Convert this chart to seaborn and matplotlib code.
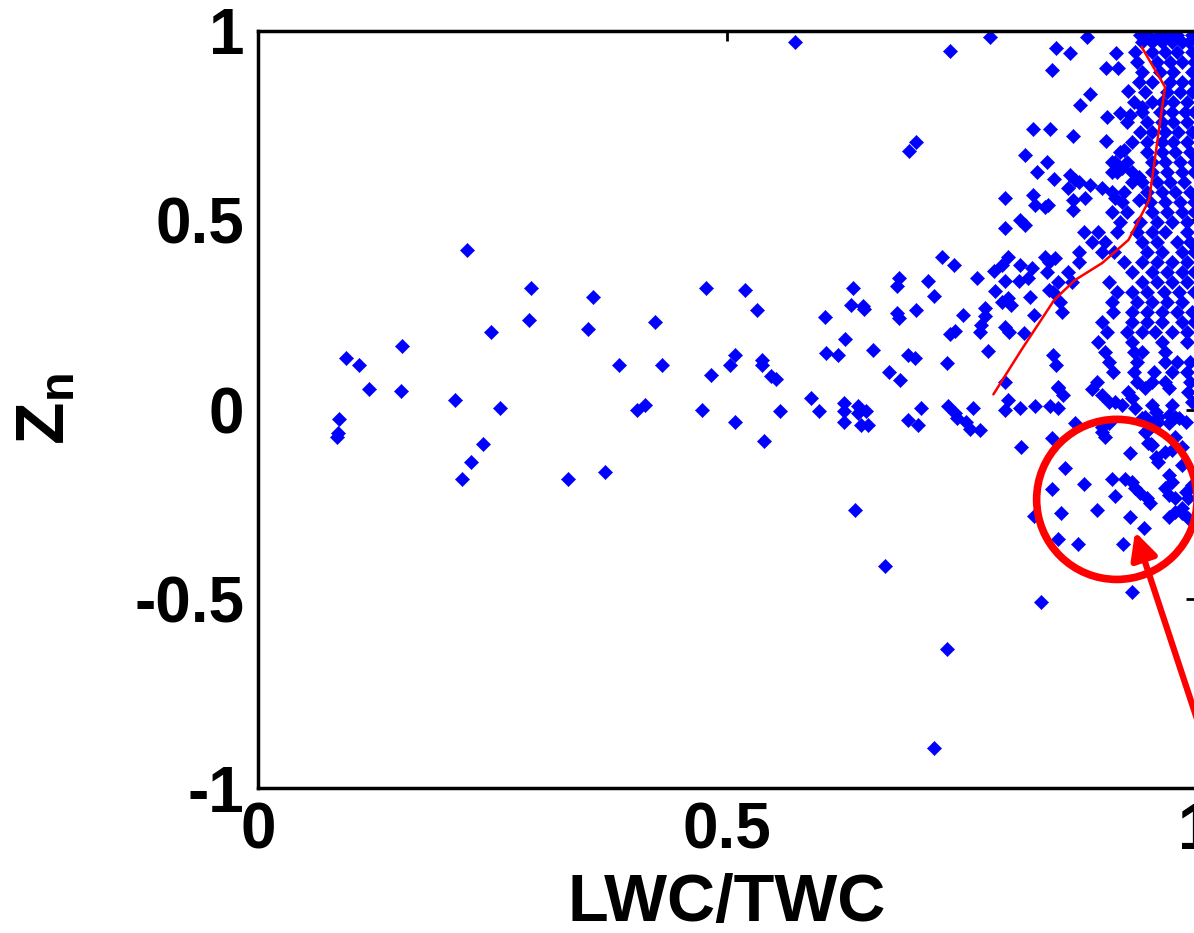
import pandas as pd
import seaborn as sns
import matplotlib.pyplot as plt
from matplotlib.patches import Ellipse

# Scattered points, left part of the cloud (LWC/TWC, Zn)
left_pts = [(0.223, 0.422), (0.291, 0.320), (0.357, 0.296), (0.478, 0.320), (0.519, 0.316),
            (0.289, 0.237), (0.248, 0.206), (0.352, 0.212), (0.423, 0.231), (0.154, 0.169),
            (0.094, 0.137), (0.108, 0.118), (0.385, 0.118), (0.431, 0.118), (0.509, 0.145),
            (0.503, 0.118), (0.483, 0.092), (0.118, 0.055), (0.152, 0.049), (0.210, 0.024),
            (0.258, 0.005), (0.404, -0.002), (0.413, 0.011), (0.473, -0.002), (0.509, -0.032),
            (0.086, -0.026), (0.084, -0.072), (0.085, -0.062), (0.240, -0.090), (0.227, -0.140),
            (0.217, -0.184), (0.330, -0.184), (0.370, -0.166), (0.573, 0.972)]

mid_pts = [(0.634, 0.321), (0.532, 0.262), (0.537, 0.130), (0.537, 0.118), (0.547, 0.088),
           (0.552, 0.081), (0.557, -0.003), (0.539, -0.084), (0.605, 0.244), (0.632, 0.276),
           (0.645, 0.273), (0.646, 0.266), (0.626, 0.187), (0.606, 0.150), (0.618, 0.143),
           (0.656, 0.156), (0.673, 0.099), (0.684, 0.079), (0.683, 0.347), (0.681, 0.327),
           (0.681, 0.255), (0.683, 0.243), (0.590, 0.031), (0.598, -0.003), (0.625, 0.017),
           (0.625, -0.003), (0.625, -0.033), (0.640, 0.009), (0.640, -0.009), (0.648, -0.003),
           (0.643, -0.042), (0.650, -0.042), (0.636, -0.265), (0.668, -0.414),
           (0.693, 0.143), (0.700, 0.136), (0.693, -0.028), (0.704, -0.042), (0.707, 0.005),
           (0.714, 0.340), (0.721, 0.301), (0.702, 0.262), (0.729, 0.403), (0.742, 0.383),
           (0.735, 0.123), (0.738, 0.199), (0.743, 0.207), (0.736, 0.009), (0.743, -0.009),
           (0.745, -0.023), (0.755, -0.032), (0.759, -0.051), (0.762, 0.005), (0.770, -0.054),
           (0.752, 0.249), (0.767, 0.347), (0.785, 0.366), (0.786, 0.312), (0.775, 0.269),
           (0.775, 0.247), (0.771, 0.222), (0.770, 0.204), (0.778, 0.155), (0.735, -0.633),
           (0.721, -0.894), (0.738, 0.947), (0.694, 0.683), (0.702, 0.706), (0.780, 0.985),
           (0.796, 0.560)]

upper_pts = [(0.796, 0.479), (0.812, 0.501), (0.818, 0.487), (0.793, 0.382), (0.800, 0.403),
             (0.796, 0.339), (0.812, 0.382), (0.811, 0.339), (0.821, 0.347), (0.825, 0.373),
             (0.839, 0.404), (0.850, 0.399), (0.793, 0.285), (0.800, 0.294), (0.803, 0.276),
             (0.823, 0.298), (0.843, 0.316), (0.853, 0.338), (0.827, 0.250), (0.796, 0.219),
             (0.801, 0.206), (0.817, 0.201), (0.848, 0.144), (0.851, 0.118), (0.796, 0.073),
             (0.853, 0.060), (0.800, 0.025), (0.796, -0.001), (0.812, 0.003), (0.828, 0.010),
             (0.844, 0.010), (0.853, 0.003), (0.853, 0.056), (0.858, 0.038), (0.813, -0.098),
             (0.846, -0.076), (0.871, -0.036),
             (0.884, 0.985), (0.851, 0.954), (0.866, 0.941), (0.915, 0.941), (0.846, 0.897),
             (0.904, 0.903), (0.917, 0.903), (0.887, 0.834), (0.876, 0.804), (0.927, 0.842),
             (0.905, 0.772), (0.919, 0.783), (0.930, 0.778), (0.826, 0.740), (0.844, 0.740),
             (0.869, 0.723), (0.904, 0.709), (0.818, 0.672), (0.841, 0.655), (0.831, 0.628),
             (0.849, 0.609), (0.866, 0.620), (0.871, 0.607), (0.864, 0.584), (0.875, 0.602),
             (0.887, 0.593), (0.900, 0.584), (0.910, 0.575), (0.914, 0.558), (0.914, 0.655),
             (0.910, 0.628), (0.921, 0.637), (0.923, 0.686), (0.932, 0.708), (0.826, 0.567),
             (0.828, 0.540), (0.842, 0.540), (0.869, 0.553), (0.882, 0.560), (0.932, 0.602),
             (0.939, 0.615), (0.939, 0.553), (0.839, 0.536), (0.869, 0.527), (0.942, 0.800)]

lower_pts = [(0.889, 0.054), (0.900, 0.038), (0.907, 0.021), (0.914, 0.021), (0.900, -0.059),
             (0.903, -0.072), (0.928, 0.047), (0.932, 0.030), (0.921, 0.012), (0.935, 0.003),
             (0.946, 0.056), (0.971, 0.056), (0.992, 0.047), (0.996, 0.021), (0.953, 0.012),
             (0.957, -0.006), (0.942, -0.023), (0.949, -0.028), (0.960, -0.032), (0.971, -0.015),
             (0.974, 0.012), (0.982, -0.023), (0.989, -0.032), (0.946, -0.059), (0.953, -0.094),
             (0.957, -0.125), (0.960, -0.138), (0.967, -0.111), (0.974, -0.107), (0.985, -0.147),
             (0.971, -0.173), (0.974, -0.191), (0.967, -0.208), (0.971, -0.226), (0.978, -0.235),
             (0.989, -0.217), (0.992, -0.235), (0.996, -0.199), (0.971, -0.283), (0.978, -0.270),
             (0.985, -0.274), (0.992, -0.287), (0.978, -0.019), (0.971, -0.036), (0.960, -0.019),
             (0.946, -0.019), (0.949, -0.054), (0.900, -0.045), (0.907, -0.036), (0.978, -0.072),
             (0.985, -0.098), (0.949, -0.089), (0.985, -0.261),
             (0.860, -0.154), (0.846, -0.210), (0.881, -0.197), (0.910, -0.184), (0.914, -0.229),
             (0.924, -0.184), (0.932, -0.191), (0.935, -0.208), (0.940, -0.221), (0.948, -0.235),
             (0.951, -0.248), (0.894, -0.266), (0.856, -0.274), (0.930, -0.283), (0.945, -0.314),
             (0.827, -0.281), (0.930, -0.116), (0.952, -0.092), (0.853, -0.343), (0.874, -0.356),
             (0.922, -0.356), (0.932, -0.481), (0.835, -0.508)]

# Dense band near LWC/TWC = 1: one row of x values per Zn level
dense_y = [0.990, 0.972, 0.945, 0.919, 0.892, 0.866, 0.840, 0.813, 0.787, 0.760,
           0.734, 0.708, 0.681, 0.655, 0.628, 0.602, 0.575, 0.549, 0.523, 0.496,
           0.470, 0.443, 0.417, 0.390, 0.364, 0.338, 0.311, 0.285, 0.258, 0.232,
           0.206, 0.179, 0.153, 0.126, 0.100, 0.073]
dense_x = [[0.940, 0.949, 0.961, 0.971, 0.980, 0.996],
           [0.942, 0.953, 0.964, 0.974, 0.985, 0.993],
           [0.935, 0.953, 0.967, 0.980, 0.996],
           [0.937, 0.958, 0.972, 0.985, 0.998],
           [0.942, 0.962, 0.976, 0.996],
           [0.939, 0.953, 0.972, 0.985, 0.998],
           [0.946, 0.969, 0.983, 0.996],
           [0.934, 0.953, 0.964, 0.976, 0.990],
           [0.942, 0.962, 0.974, 0.988, 0.998],
           [0.926, 0.948, 0.964, 0.976, 0.990],
           [0.940, 0.953, 0.967, 0.981, 0.996],
           [0.948, 0.964, 0.976, 0.990],
           [0.919, 0.948, 0.964, 0.978, 0.994],
           [0.910, 0.926, 0.953, 0.967, 0.983, 0.998],
           [0.916, 0.932, 0.953, 0.969, 0.985, 0.998],
           [0.942, 0.958, 0.972, 0.987],
           [0.923, 0.948, 0.964, 0.978, 0.994],
           [0.921, 0.951, 0.967, 0.983, 0.998],
           [0.910, 0.926, 0.953, 0.969, 0.985, 0.998],
           [0.919, 0.940, 0.958, 0.974, 0.990],
           [0.881, 0.896, 0.916, 0.937, 0.953, 0.967, 0.990],
           [0.889, 0.903, 0.942, 0.958, 0.980, 0.994],
           [0.875, 0.900, 0.913, 0.948, 0.964, 0.985, 0.998],
           [0.843, 0.875, 0.923, 0.942, 0.958, 0.974, 0.990],
           [0.841, 0.864, 0.932, 0.953, 0.969, 0.985, 0.998],
           [0.868, 0.907, 0.942, 0.958, 0.974, 0.990],
           [0.848, 0.916, 0.932, 0.948, 0.966, 0.982, 0.998],
           [0.855, 0.910, 0.937, 0.953, 0.969, 0.985],
           [0.857, 0.912, 0.932, 0.948, 0.964, 0.980, 0.996],
           [0.900, 0.932, 0.948, 0.964, 0.985, 0.998],
           [0.905, 0.926, 0.942, 0.956, 0.974, 0.990],
           [0.896, 0.932, 0.964, 0.990],
           [0.903, 0.934, 0.942, 0.967],
           [0.907, 0.937, 0.967, 0.980, 0.994],
           [0.912, 0.934, 0.955, 0.974, 0.990],
           [0.894, 0.937, 0.953, 0.967, 0.994]]

# Red curve (mean Zn profile)
curve_x = [0.784, 0.814, 0.835, 0.849, 0.871, 0.900, 0.928, 0.950, 0.960, 0.967, 0.942]
curve_y = [0.040, 0.158, 0.237, 0.290, 0.342, 0.387, 0.448, 0.553, 0.730, 0.852, 0.958]

# Highlight circle and arrow (data coordinates)
circle_center = (0.9156, -0.2375)
circle_size = (0.171, 0.423)
arrow_tip = (0.935, -0.323)
arrow_tail = (1.037, -1.087)

xs, ys = [], []
for group in (left_pts, mid_pts, upper_pts, lower_pts):
    for x, y in group:
        xs.append(x)
        ys.append(y)
for y, row in zip(dense_y, dense_x):
    for x in row:
        xs.append(x)
        ys.append(y)
df = pd.DataFrame({'LWC/TWC': xs, 'Zn': ys})

sns.set_theme(style='white')
plt.rcParams['font.family'] = ['Liberation Sans', 'DejaVu Sans']
plt.rcParams['font.weight'] = 'bold'
plt.rcParams['text.color'] = 'black'
plt.rcParams['axes.labelcolor'] = 'black'
plt.rcParams['mathtext.fontset'] = 'custom'
plt.rcParams['mathtext.bf'] = 'Liberation Sans:bold'
plt.rcParams['mathtext.rm'] = 'Liberation Sans:bold'
plt.rcParams['mathtext.it'] = 'Liberation Sans:bold'

fig = plt.figure(figsize=(11.94, 9.33), dpi=100)
ax = fig.add_axes([258 / 1194, 145 / 933, 938 / 1194, 757 / 933])

sns.scatterplot(data=df, x='LWC/TWC', y='Zn', marker='D', s=52, color='#0000ff',
                edgecolor='#0000ff', linewidth=0.4, ax=ax)
sns.lineplot(x=curve_x, y=curve_y, sort=False, estimator=None, color='red', lw=1.8, ax=ax)

ax.add_patch(Ellipse(circle_center, circle_size[0], circle_size[1], fill=False,
                     edgecolor='red', lw=5.5, clip_on=False))
ax.annotate('', xy=arrow_tip, xytext=arrow_tail, annotation_clip=False,
            arrowprops=dict(arrowstyle='-|>', color='red', lw=4.5, mutation_scale=40,
                            shrinkA=0, shrinkB=0))

ax.set_xlim(0, 1)
ax.set_ylim(-1, 1)
ax.set_xticks([0, 0.5, 1])
ax.set_xticklabels(['0', '0.5', '1'])
ax.set_yticks([-1, -0.5, 0, 0.5, 1])
ax.set_yticklabels(['-1', '-0.5', '0', '0.5', '1'])
ax.tick_params(direction='in', length=7, width=2, top=True, right=True,
               labelsize=46, pad=10, colors='black')
for sp in ax.spines.values():
    sp.set_linewidth(2.5)
    sp.set_color('black')

ax.set_xlabel('LWC/TWC', fontsize=48, fontweight='bold', labelpad=8, color='black')
ax.set_ylabel(r'$\mathbf{Z_n}$', fontsize=50, labelpad=40, color='black')

fig.savefig('out.png', dpi=100)
